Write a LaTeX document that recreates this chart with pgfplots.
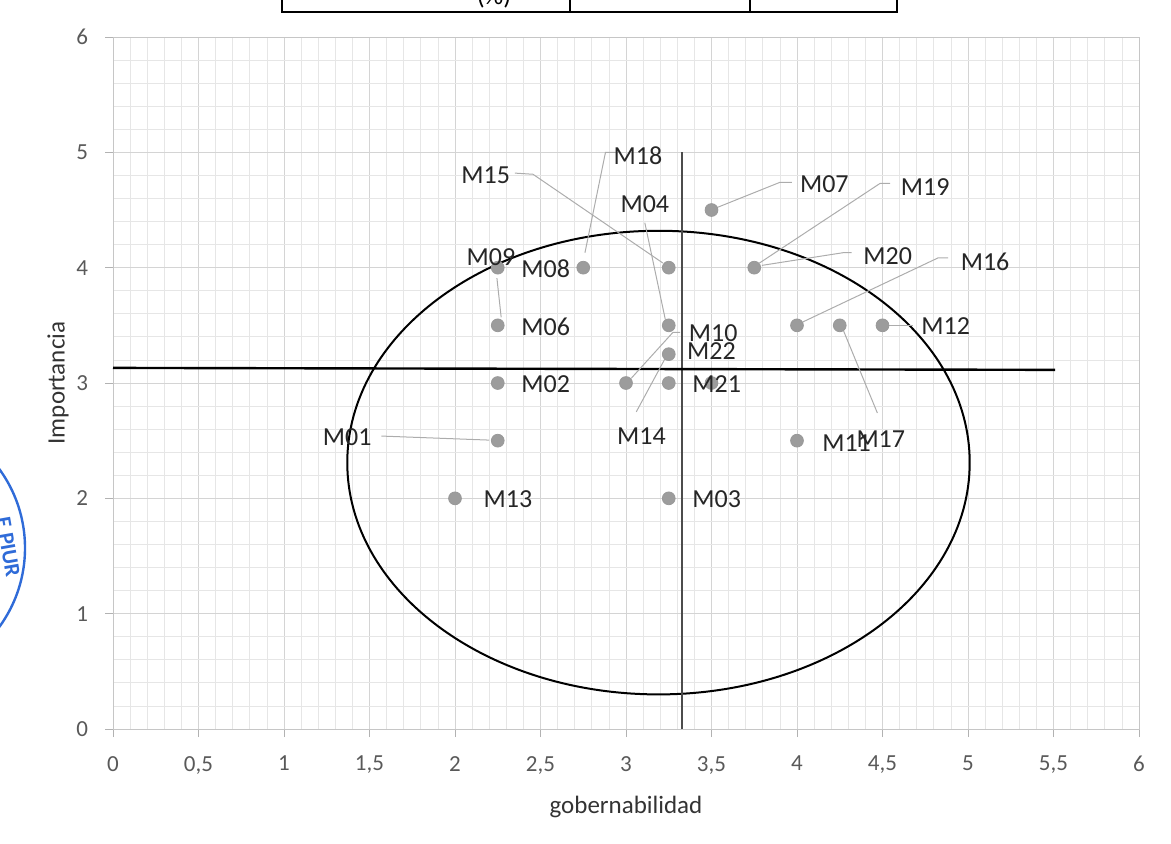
\documentclass[border=0pt]{standalone}
\usepackage{fontspec}
\setmainfont{Carlito}
\usepackage{pgfplots}
\pgfplotsset{compat=1.18}
\usepackage{pgfplotstable}

\definecolor{tickgray}{HTML}{595959}
\definecolor{gridmaj}{HTML}{D4D4D4}
\definecolor{gridmin}{HTML}{E6E6E6}
\definecolor{markgray}{HTML}{9C9C9C}
\definecolor{stampblue}{HTML}{2F6BD8}

% points (gobernabilidad, importancia)
\pgfplotstableread{
x y
2.00 2.00
2.25 2.50
2.25 3.00
2.25 3.50
2.25 4.00
2.75 4.00
3.00 3.00
3.25 4.00
3.25 3.50
3.25 3.25
3.25 3.00
3.50 3.00
3.25 2.00
3.50 4.50
3.75 4.00
4.00 3.50
4.25 3.50
4.50 3.50
4.00 2.50
}\puntos

% label positions
\pgfplotstableread{
x y lab
2.31 1.995 M13
1.37 2.53 M01
2.53 2.99 M02
2.53 3.49 M06
2.21 4.09 M09
2.53 3.99 M08
3.07 4.97 M18
2.18 4.80 M15
3.11 4.55 M04
3.51 3.43 M10
3.50 3.28 M22
3.53 2.99 M21
3.09 2.54 M14
3.53 1.995 M03
4.16 4.72 M07
4.75 4.70 M19
4.53 4.10 M20
5.10 4.05 M16
4.87 3.49 M12
4.49 2.51 M17
4.29 2.48 M11
}\etiquetas

\begin{document}
\begin{tikzpicture}
\begin{axis}[
    at={(56.5pt,57pt)}, anchor=south west,
    scale only axis, width=513pt, height=346pt,
    xmin=0, xmax=6, ymin=0, ymax=6,
    xtick={0,0.5,...,6}, ytick={0,1,...,6},
    minor x tick num=4, minor y tick num=4,
    grid=both,
    major grid style={gridmaj, line width=0.5pt},
    minor grid style={gridmin, line width=0.4pt},
    axis line style={gray!45, line width=0.5pt},
    tick align=outside, major tick length=4pt, minor tick length=0pt,
    tick style={gray!60, line width=0.5pt},
    xtick pos=bottom, ytick pos=left,
    /pgf/number format/use comma,
    /pgf/number format/assume math mode=true,
    ticklabel style={font=\fontsize{11.5}{13}\selectfont, text=tickgray},
    xticklabel style={yshift=-6pt},
    yticklabel style={xshift=-5pt},
    xlabel={gobernabilidad}, ylabel={Importancia},
    label style={font=\fontsize{12.5}{15}\selectfont, text=black!80},
    xlabel style={yshift=-4pt},
    ylabel style={yshift=-3pt},
    clip=false,
]
% ellipse
\draw[black, line width=1pt] (axis cs:3.19,2.31) ellipse [x radius=1.82, y radius=2.01];
% reference lines
\addplot[black!70, line width=1pt] coordinates {(3.327,0) (3.327,5.0)};
\addplot[black, line width=1.2pt] coordinates {(0,3.131) (5.51,3.114)};
% leader lines
\addplot[gray!65, line width=0.5pt] coordinates {(1.57,2.54) (2.20,2.505)};
\addplot[gray!65, line width=0.5pt] coordinates {(2.245,3.91) (2.27,3.57)};
\addplot[gray!65, line width=0.5pt] coordinates {(2.94,5.0) (2.88,5.0) (2.76,4.13)};
\addplot[gray!65, line width=0.5pt] coordinates {(2.35,4.82) (2.456,4.81) (3.216,4.04)};
\addplot[gray!65, line width=0.5pt] coordinates {(3.11,4.39) (3.23,3.55)};
\addplot[gray!65, line width=0.5pt] coordinates {(3.316,3.44) (3.275,3.44) (3.03,3.04)};
\addplot[gray!65, line width=0.5pt] coordinates {(3.06,2.75) (3.246,3.26)};
\addplot[gray!65, line width=0.5pt] coordinates {(3.97,4.74) (3.90,4.74) (3.53,4.52)};
\addplot[gray!65, line width=0.5pt] coordinates {(4.544,4.73) (4.485,4.73) (3.78,4.04)};
\addplot[gray!65, line width=0.5pt] coordinates {(4.32,4.13) (4.27,4.13) (3.795,4.02)};
\addplot[gray!65, line width=0.5pt] coordinates {(4.883,4.085) (4.825,4.085) (4.035,3.53)};
\addplot[gray!65, line width=0.5pt] coordinates {(4.526,3.495) (4.68,3.495)};
\addplot[gray!65, line width=0.5pt] coordinates {(4.27,3.46) (4.47,2.74)};
% points
\addplot[only marks, mark=*, mark size=3.2pt,
    mark options={fill=markgray, draw=gray!80, line width=0.4pt}] table {\puntos};
% labels
\addplot[draw=none, mark=none, nodes near coords, point meta=explicit symbolic,
    nodes near coords style={anchor=center, inner sep=0pt,
      font=\fontsize{13}{15}\selectfont, text=black!85}]
    table[meta=lab] {\etiquetas};
\end{axis}
% fragment of the table above the chart
\draw[black, line width=0.8pt] (141pt,423pt) -- (141pt,415.5pt) -- (448.5pt,415.5pt) -- (448.5pt,423pt);
\draw[black, line width=0.8pt] (285pt,415.5pt) -- (285pt,423pt);
\draw[black, line width=0.8pt] (375pt,415.5pt) -- (375pt,423pt);
\node[font=\fontsize{13}{15}\selectfont, anchor=south, inner sep=0pt] at (247pt,417pt) {(\%)};
% stamp at the left edge
\draw[stampblue, line width=1.2pt] (-54.5pt,147.5pt) circle [radius=67pt];
\node[stampblue, rotate=-80, font=\bfseries\fontsize{11}{13}\selectfont] at (4pt,148pt) {E PIUR};
\pgfresetboundingbox
\path (0,0) rectangle (585.5pt,421.5pt);
\end{tikzpicture}
\end{document}
